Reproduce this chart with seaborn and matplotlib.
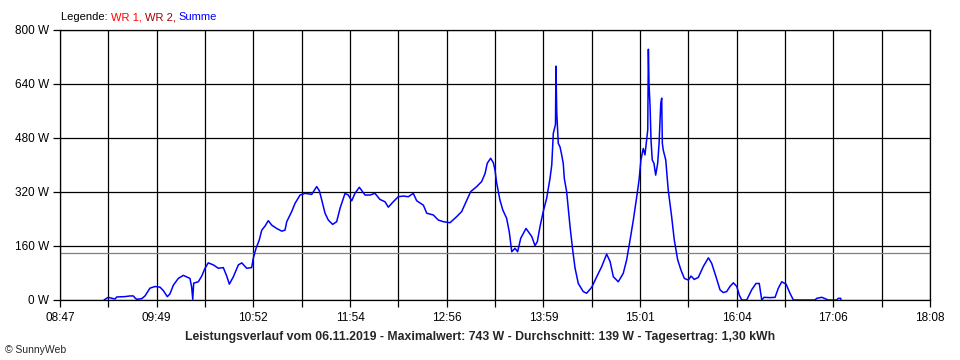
import numpy as np
import pandas as pd
import matplotlib
matplotlib.use("Agg")
import matplotlib.pyplot as plt
import seaborn as sns

# minutes after 08:47
minutes = [28.4, 29.0, 31.1, 33.5, 35.5, 36.6, 41.9, 45.1, 47.3, 48.4, 49.5, 52.7, 54.8, 58.0,
           61.3, 64.5, 66.6, 69.2, 70.9, 73.1, 76.3, 79.5, 83.8, 84.9, 85.6, 86.2, 89.2, 91.4,
           93.5, 95.6, 98.9, 102.1, 105.3, 107.5, 109.2, 111.8, 115.0, 117.2, 120.4, 123.6,
           124.6, 126.4, 128.5, 130.1, 132.2, 134.3, 136.5, 139.7, 143.0, 145.1, 146.2, 149.4,
           151.5, 154.8, 158.0, 162.3, 165.5, 167.2, 168.8, 170.9, 173.0, 175.8, 178.4, 180.6,
           183.8, 185.9, 188.1, 190.2, 193.0, 196.7, 199.9, 203.1, 206.3, 209.6, 211.7, 214.9,
           218.1, 221.4, 224.6, 227.8, 230.0, 234.3, 236.5, 240.7, 243.9, 247.2, 251.5, 255.8,
           259.0, 262.3, 264.8, 268.7, 271.9, 274.1, 275.5, 277.7, 279.4, 280.5, 281.6, 283.7,
           285.5, 288.0, 289.7, 291.3, 293.4, 295.1, 297.1, 300.5, 304.2, 306.3, 307.8, 309.5,
           311.6, 313.8, 316.0, 317.1, 318.1, 319.5, 319.8, 320.3, 320.9, 321.3, 322.4, 323.5,
           324.5, 325.2, 326.7, 328.9, 330.6, 332.1, 334.2, 337.4, 339.6, 342.9, 346.1, 349.3,
           352.5, 354.7, 356.8, 360.0, 363.2, 365.4, 367.6, 369.7, 371.9, 373.4, 374.6, 376.1,
           377.2, 378.3, 379.0, 379.4, 379.8, 380.5, 381.1, 381.9, 383.0, 384.1, 385.4, 386.3,
           387.4, 388.0, 388.4, 389.0, 390.6, 392.2, 394.4, 396.1, 398.3, 400.4, 402.6, 405.2,
           406.9, 409.0, 411.6, 414.8, 418.1, 420.2, 423.0, 425.6, 427.7, 429.9, 432.0, 434.2,
           436.4, 438.0, 439.6, 442.8, 446.0, 448.8, 450.9, 452.5, 454.0, 457.8, 461.1, 463.2,
           465.4, 468.2, 470.7, 472.9, 486.8, 488.0, 491.2, 494.4, 495.4, 500.8, 501.9, 503.4,
           503.6]

summe_w = [0, 2, 8, 5, 3, 9, 10, 12, 12, 6, 2, 4, 12, 35,
           40, 38, 28, 10, 18, 44, 64, 73, 64, 38, 2, 50, 54, 71,
           94, 110, 104, 94, 96, 71, 47, 69, 104, 110, 94, 96,
           123, 153, 178, 207, 219, 235, 222, 212, 204, 207, 232, 262,
           286, 311, 316, 313, 336, 324, 296, 257, 237, 224, 232, 272,
           316, 311, 294, 316, 334, 311, 311, 316, 298, 291, 275, 291,
           306, 308, 306, 316, 294, 281, 257, 252, 237, 232, 229, 247,
           262, 296, 321, 336, 351, 375, 405, 420, 407, 385, 346, 296,
           267, 242, 202, 143, 153, 143, 183, 212, 188, 161, 173, 217,
           262, 301, 361, 400, 494, 520, 693, 558, 504, 464, 454, 430,
           405, 360, 321, 217, 148, 95, 49, 25, 20, 38, 69, 99,
           136, 114, 69, 54, 79, 119, 178, 237, 306, 356, 415, 449,
           430, 474, 504, 743, 642, 573, 474, 415, 405, 370, 405, 464,
           583, 598, 464, 444, 415, 326, 247, 178, 119, 89, 64, 59,
           71, 61, 67, 99, 125, 109, 69, 30, 22, 25, 40, 51,
           40, 15, 0, 0, 30, 49, 49, 0, 8, 7, 8, 35,
           54, 47, 20, 0, 0, 5, 8, 2, 0, 0, 5, 5,
           0]

y_ticks = [0, 160, 320, 480, 640, 800]
y_labels = ["0 W", "160 W", "320 W", "480 W", "640 W", "800 W"]
x_labels = ["08:47", "09:49", "10:52", "11:54", "12:56", "13:59", "15:01", "16:04", "17:06", "18:08"]
span_min = 561
average_w = 139
title = ("Leistungsverlauf vom 06.11.2019 - Maximalwert: 743 W - Durchschnitt: 139 W"
         " - Tagesertrag: 1,30 kWh")

sns.set_style("white")
plt.rcParams["font.family"] = ["Liberation Sans", "DejaVu Sans"]

df = pd.DataFrame({"t": minutes, "w": summe_w})

fig = plt.figure(figsize=(9.6, 3.6), dpi=100)
ax = fig.add_axes([60 / 960, 60 / 360, 870 / 960, 270 / 360])

# grid
all_x = np.linspace(0, span_min, 2 * len(x_labels) - 1)
for xv in all_x:
    ax.axvline(xv, color="black", lw=0.9, zorder=1)
for yv in y_ticks:
    ax.axhline(yv, color="black", lw=0.9, zorder=1)
ax.axhline(average_w, color="#808080", lw=0.9, zorder=1)

sns.lineplot(data=df, x="t", y="w", ax=ax, color="#0000ff", lw=1.1,
             estimator=None, sort=False, zorder=3)

ax.set_xlim(0, span_min)
ax.set_ylim(0, 800)
ax.set_xticks(all_x)
ax.set_xticklabels([x_labels[i // 2] if i % 2 == 0 else "" for i in range(len(all_x))])
ax.set_yticks(y_ticks)
ax.set_yticklabels(y_labels)
ax.set_xlabel("")
ax.set_ylabel("")
ax.tick_params(axis="both", which="both", direction="out", length=5, width=0.9,
               color="black", labelsize=8.5, labelcolor="black", pad=3,
               bottom=True, left=True)
ax.tick_params(axis="x", pad=3.5)
for s in ax.spines.values():
    s.set_color("black")
    s.set_linewidth(0.9)
    s.set_visible(True)

# legend text pieces
fig.canvas.draw()
renderer = fig.canvas.get_renderer()
xpix = 61
parts = [("Legende: ", "black"), ("WR 1, ", "#ff0000"), ("WR 2, ", "#a00000"), ("Summe", "#0000ff")]
for txt, col in parts:
    t = fig.text(xpix / 960, 1 - 17 / 360, txt, color=col, fontsize=8, va="center", ha="left")
    bb = t.get_window_extent(renderer=renderer)
    xpix += bb.width

fig.text(480 / 960, 1 - 337 / 360, title, fontsize=8.8, fontweight="bold", ha="center", va="center")
fig.text(5 / 960, 1 - 350 / 360, "\u00a9 SunnyWeb", fontsize=7.5, ha="left", va="center")

fig.savefig("out.png", dpi=100, facecolor="white")
